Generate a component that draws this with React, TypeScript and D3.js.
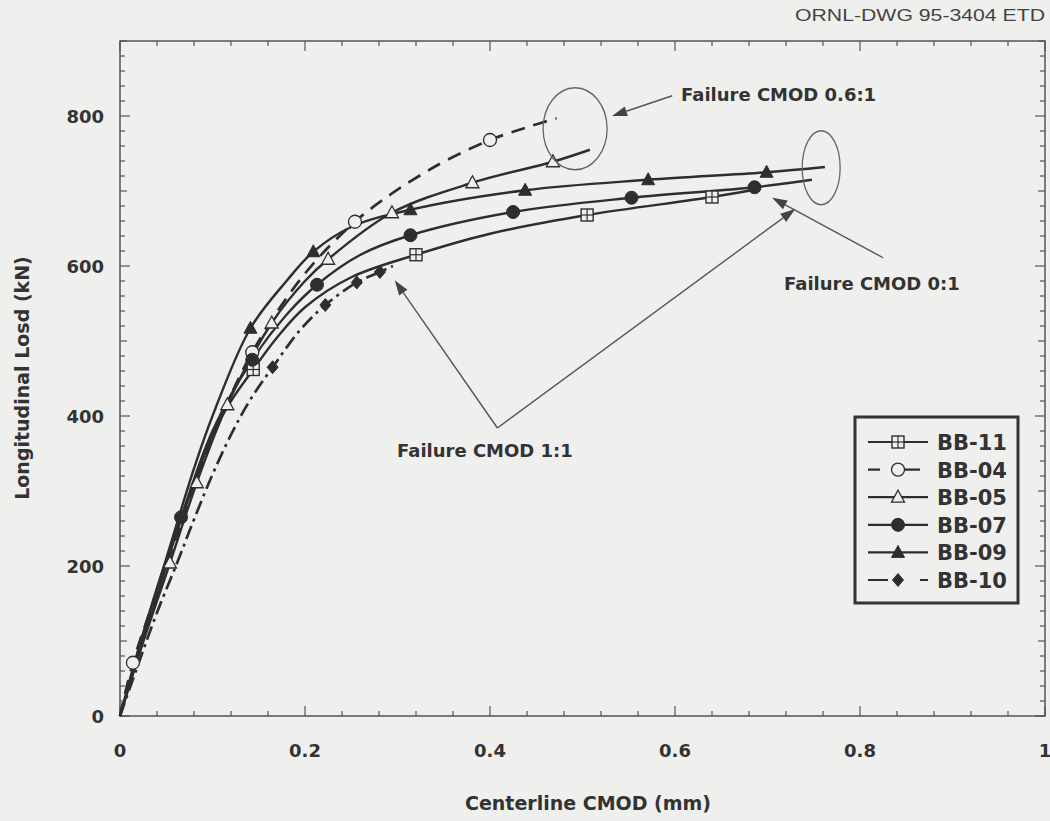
import React from "react";
import * as d3 from "d3";

// ---------- data ----------
const X_TICKS = [0, 0.2, 0.4, 0.6, 0.8, 1];
const X_TICK_LABELS = ["0", "0.2", "0.4", "0.6", "0.8", "1"];
const Y_TICKS = [0, 200, 400, 600, 800];
const Y_TICK_LABELS = ["0", "200", "400", "600", "800"];

const bb11 = [[0,0],[0.02,80],[0.04,160],[0.06,240],[0.08,310],[0.1,375],[0.12,420],[0.144,462],[0.17,505],[0.2,545],[0.25,585],[0.32,615],[0.4,643],[0.505,668],[0.64,692],[0.692,703]];
const bb11Markers = [[0.144,462],[0.32,615],[0.505,668],[0.64,692]];

const bb04 = [[0,0],[0.014,71],[0.05,200],[0.1,370],[0.143,485],[0.2,590],[0.254,659],[0.292,695],[0.322,719],[0.353,741],[0.4,768],[0.44,785],[0.472,797]];
const bb04Markers = [[0.014,71],[0.143,485],[0.254,659],[0.4,768]];

const bb05 = [[0,0],[0.02,80],[0.054,204],[0.083,311],[0.116,415],[0.164,524],[0.2,580],[0.225,609],[0.294,671],[0.381,711],[0.468,739],[0.508,755]];
const bb05Markers = [[0.054,204],[0.083,311],[0.116,415],[0.164,524],[0.225,609],[0.294,671],[0.381,711],[0.468,739]];

const bb07 = [[0,0],[0.02,85],[0.04,170],[0.066,265],[0.1,380],[0.143,475],[0.18,535],[0.213,575],[0.26,615],[0.314,641],[0.425,672],[0.553,691],[0.686,705],[0.748,715]];
const bb07Markers = [[0.066,265],[0.143,475],[0.213,575],[0.314,641],[0.425,672],[0.553,691],[0.686,705]];

const bb09 = [[0,0],[0.02,90],[0.05,210],[0.08,330],[0.1,400],[0.141,517],[0.18,580],[0.209,619],[0.25,652],[0.314,675],[0.438,701],[0.571,715],[0.699,725],[0.762,732]];
const bb09Markers = [[0.141,517],[0.209,619],[0.314,675],[0.438,701],[0.571,715],[0.699,725]];

const bb10 = [[0,0],[0.02,70],[0.04,138],[0.062,205],[0.08,262],[0.1,322],[0.12,375],[0.14,420],[0.165,465],[0.195,515],[0.222,548],[0.256,578],[0.281,592],[0.295,600]];
const bb10Markers = [[0.165,465],[0.222,548],[0.256,578],[0.281,592]];

const SERIES_NAMES = ["BB-11", "BB-04", "BB-05", "BB-07", "BB-09", "BB-10"];

// ---------- layout ----------
const W = 1050, H = 821;
const X0 = 120, X1 = 1045, Y0 = 716, Y1 = 41;
const BG = "#efefed";
const INK = "#2e2e2e";
const FONT = "'DejaVu Sans', 'Liberation Sans', sans-serif";

const xs = d3.scaleLinear().domain([0, 1]).range([X0, X1]);
const ys = d3.scaleLinear().domain([0, 900]).range([Y0, Y1]);

type Pt = number[];
const lineGen = d3.line<Pt>().x(d => xs(d[0])).y(d => ys(d[1])).curve(d3.curveCatmullRom.alpha(0.5));

function Marker({ kind, x, y }: { kind: string; x: number; y: number }) {
  const s = 6;
  switch (kind) {
    case "sq":
      return (
        <g>
          <rect x={x - s} y={y - s} width={2 * s} height={2 * s} fill={BG} stroke={INK} strokeWidth={1.4} />
          <line x1={x} x2={x} y1={y - s} y2={y + s} stroke={INK} strokeWidth={1.2} />
          <line x1={x - s} x2={x + s} y1={y} y2={y} stroke={INK} strokeWidth={1.2} />
        </g>
      );
    case "oc":
      return <circle cx={x} cy={y} r={6.5} fill={BG} stroke={INK} strokeWidth={1.3} />;
    case "fc":
      return <circle cx={x} cy={y} r={6.5} fill={INK} stroke={INK} strokeWidth={1} />;
    case "ot":
      return <path d={`M${x},${y - 7}L${x + 6.5},${y + 5}L${x - 6.5},${y + 5}Z`} fill={BG} stroke={INK} strokeWidth={1.3} />;
    case "ft":
      return <path d={`M${x},${y - 7}L${x + 6.5},${y + 5}L${x - 6.5},${y + 5}Z`} fill={INK} stroke={INK} strokeWidth={1} />;
    case "fd":
      return <path d={`M${x},${y - 6.5}L${x + 5.5},${y}L${x},${y + 6.5}L${x - 5.5},${y}Z`} fill={INK} stroke={INK} strokeWidth={1} />;
    default:
      return null;
  }
}

const SERIES = [
  { name: SERIES_NAMES[0], data: bb11, markers: bb11Markers, kind: "sq", dash: "" },
  { name: SERIES_NAMES[1], data: bb04, markers: bb04Markers, kind: "oc", dash: "14,9" },
  { name: SERIES_NAMES[2], data: bb05, markers: bb05Markers, kind: "ot", dash: "" },
  { name: SERIES_NAMES[3], data: bb07, markers: bb07Markers, kind: "fc", dash: "" },
  { name: SERIES_NAMES[4], data: bb09, markers: bb09Markers, kind: "ft", dash: "" },
  { name: SERIES_NAMES[5], data: bb10, markers: bb10Markers, kind: "fd", dash: "14,5,3,5" },
];

function Arrow({ from, to }: { from: number[]; to: number[] }) {
  const fx = xs(from[0]), fy = ys(from[1]), tx = xs(to[0]), ty = ys(to[1]);
  const ang = Math.atan2(ty - fy, tx - fx);
  const L = 15, Wd = 5;
  const bx = tx - L * Math.cos(ang), by = ty - L * Math.sin(ang);
  const px = -Math.sin(ang) * Wd, py = Math.cos(ang) * Wd;
  return (
    <g>
      <line x1={fx} y1={fy} x2={bx} y2={by} stroke="#555" strokeWidth={1.4} />
      <path d={`M${tx},${ty}L${bx + px},${by + py}L${bx - px},${by - py}Z`} fill="#444" />
    </g>
  );
}

export default function App() {
  const xMinor = d3.range(0, 1.0001, 0.04);
  const yMinor = d3.range(0, 900.001, 20);
  const legendX = 855, legendY = 417;
  return (
    <svg width={W} height={H} style={{ position: "absolute", left: 0, top: 0, display: "block" }} fontFamily={FONT}>
      <rect x={0} y={0} width={W} height={H} fill={BG} />
      <text x={1045} y={21} textAnchor="end" fontFamily="'Liberation Sans', Arial, sans-serif" fontSize={16} fill="#444" textLength={250} lengthAdjust="spacingAndGlyphs">ORNL-DWG 95-3404 ETD</text>

      {/* frame */}
      <rect x={X0} y={Y1} width={X1 - X0} height={Y0 - Y1} fill="none" stroke="#555" strokeWidth={1.5} />
      {xMinor.map((v, i) => {
        const major = Math.abs(v / 0.2 - Math.round(v / 0.2)) < 1e-6;
        const len = major ? 10 : 5;
        return (
          <g key={"xt" + i}>
            <line x1={xs(v)} x2={xs(v)} y1={Y0} y2={Y0 - len} stroke="#555" strokeWidth={1.2} />
            <line x1={xs(v)} x2={xs(v)} y1={Y1} y2={Y1 + len} stroke="#555" strokeWidth={1.2} />
          </g>
        );
      })}
      {yMinor.map((v, i) => {
        const major = v % 200 === 0;
        const mid = v % 100 === 0;
        const len = major ? 10 : mid ? 7 : 5;
        return (
          <g key={"yt" + i}>
            <line x1={X0} x2={X0 + len} y1={ys(v)} y2={ys(v)} stroke="#555" strokeWidth={1.2} />
            <line x1={X1} x2={X1 - len} y1={ys(v)} y2={ys(v)} stroke="#555" strokeWidth={1.2} />
          </g>
        );
      })}
      {X_TICKS.map((v, i) => (
        <text key={"xl" + i} x={xs(v)} y={757} textAnchor="middle" fontSize={18} fontWeight="bold" fill="#333">{X_TICK_LABELS[i]}</text>
      ))}
      {Y_TICKS.map((v, i) => (
        <text key={"yl" + i} x={104} y={ys(v) + 7} textAnchor="end" fontSize={18} fontWeight="bold" fill="#333">{Y_TICK_LABELS[i]}</text>
      ))}
      <text x={588} y={810} textAnchor="middle" fontSize={19} fontWeight="bold" fill="#333">Centerline CMOD (mm)</text>
      <text transform={`translate(29,378) rotate(-90)`} textAnchor="middle" fontSize={19} fontWeight="bold" fill="#333">Longitudinal Losd (kN)</text>

      {/* series */}
      {SERIES.map(s => (
        <path key={s.name} d={lineGen(s.data) || ""} fill="none" stroke={INK} strokeWidth={s.dash ? 2.7 : 2.4} strokeDasharray={s.dash || undefined} />
      ))}
      {SERIES.map(s => (
        <g key={s.name + "m"}>
          {s.markers.map((m, i) => <Marker key={i} kind={s.kind} x={xs(m[0])} y={ys(m[1])} />)}
        </g>
      ))}

      {/* annotations */}
      <ellipse cx={xs(0.492)} cy={ys(783)} rx={32} ry={41} fill="none" stroke="#666" strokeWidth={1.3} />
      <ellipse cx={xs(0.758)} cy={ys(731)} rx={19} ry={37} fill="none" stroke="#666" strokeWidth={1.3} />
      <Arrow from={[0.597, 827]} to={[0.532, 800]} />
      <Arrow from={[0.825, 611]} to={[0.705, 691]} />
      <Arrow from={[0.408, 384]} to={[0.297, 581]} />
      <Arrow from={[0.408, 384]} to={[0.730, 676]} />
      <text x={681} y={101} fontSize={18} fontWeight="bold" fill="#333">Failure CMOD 0.6:1</text>
      <text x={784} y={290} fontSize={18} fontWeight="bold" fill="#333">Failure CMOD 0:1</text>
      <text x={397} y={457} fontSize={18} fontWeight="bold" fill="#333">Failure CMOD 1:1</text>

      {/* legend */}
      <rect x={legendX} y={legendY} width={163} height={186} fill={BG} stroke="#333" strokeWidth={3} />
      {SERIES.map((s, i) => {
        const y = 442 + i * 27.6;
        return (
          <g key={s.name + "l"}>
            <line x1={868} x2={928} y1={y} y2={y} stroke={INK} strokeWidth={2.2} strokeDasharray={s.dash ? (s.kind === "oc" ? "12,20,20,8" : "20,10,0,22,8") : undefined} />
            <Marker kind={s.kind} x={898} y={y} />
            <text x={937} y={y + 8} fontSize={21} fontWeight="bold" fill="#333">{s.name}</text>
          </g>
        );
      })}
    </svg>
  );
}
